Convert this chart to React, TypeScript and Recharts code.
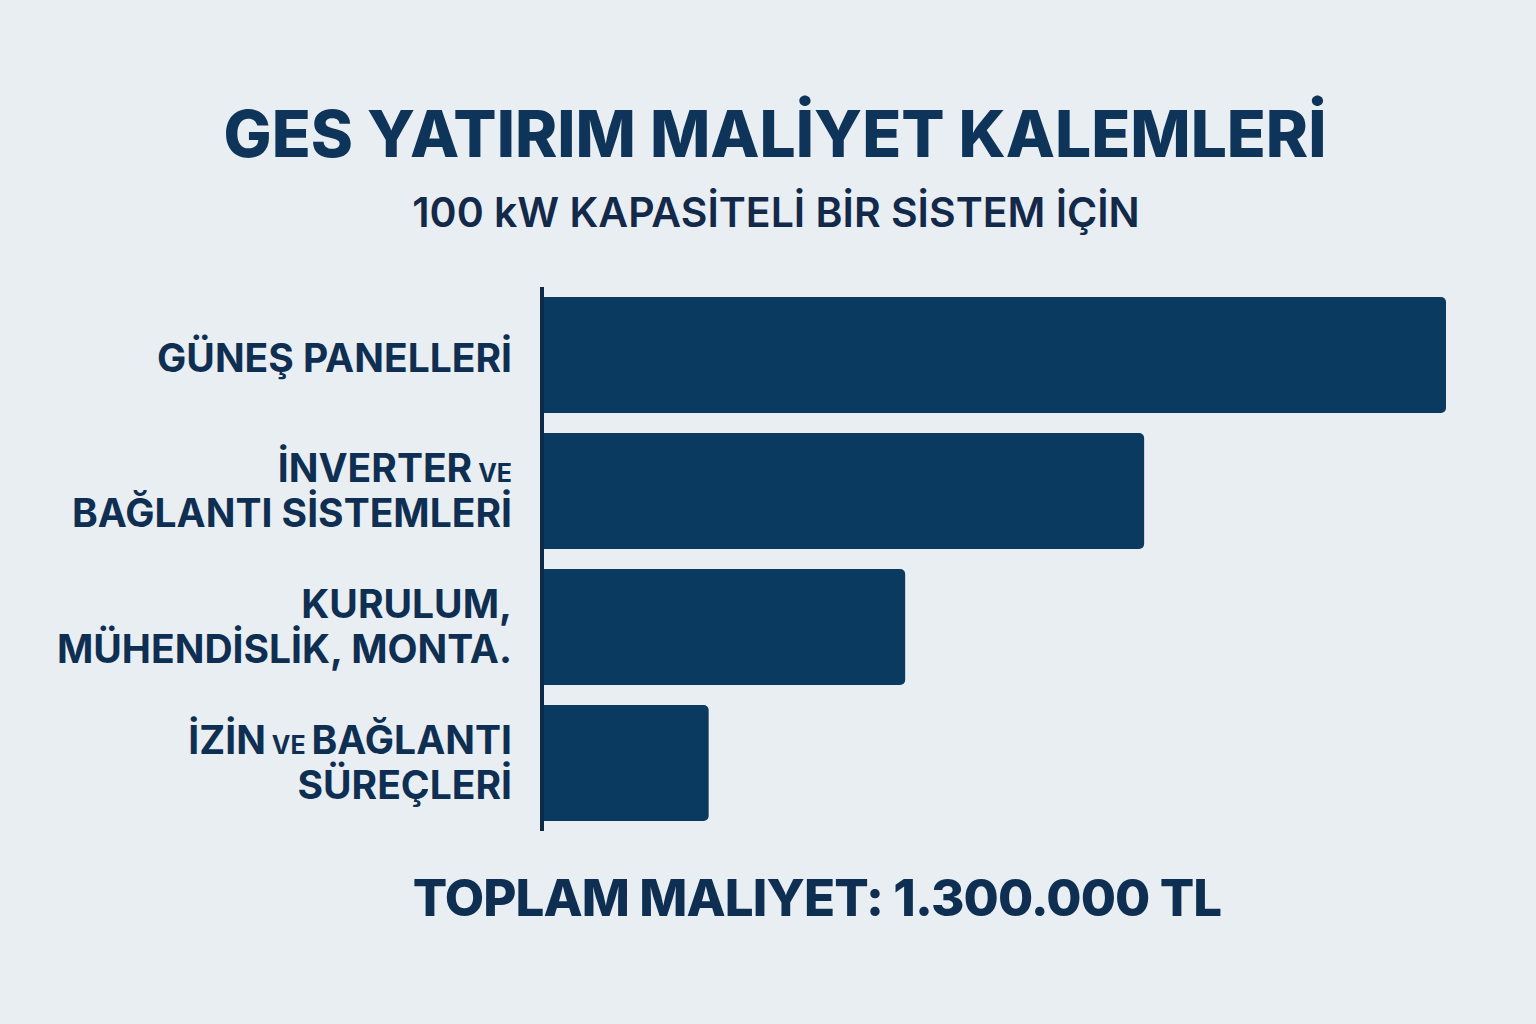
import { Bar, BarChart, XAxis, YAxis } from "recharts"

const categories = ["GÜNEŞ PANELLERİ", "İNVERTER VE BAĞLANTI SİSTEMLERİ", "KURULUM, MÜHENDİSLİK, MONTA.", "İZİN VE BAĞLANTI SÜREÇLERİ"]
const labelLines = [["GÜNEŞ PANELLERİ"], ["İNVERTER VE", "BAĞLANTI SİSTEMLERİ"], ["KURULUM,", "MÜHENDİSLİK, MONTA."], ["İZİN VE BAĞLANTI", "SÜREÇLERİ"]]
const costs = [575000, 383000, 231000, 106000]

const title = "GES YATIRIM MALİYET KALEMLERİ"
const subtitle = "100 kW KAPASİTELİ BİR SİSTEM İÇİN"
const totalText = "TOPLAM MALIYET: 1.300.000 TL"

const ink = "#0f2f52"
const barColor = "#0a3a60"
const font = "Inter, 'Noto Sans', sans-serif"

const data = categories.map((name, i) => ({ name, cost: costs[i] }))

function CategoryTick({ x, y, payload }: any) {
  const idx = categories.indexOf(payload.value)
  const lines = labelLines[idx] || [payload.value]
  const first = lines.length === 1 ? y + 17 : y - 9
  return (
    <text x={x} y={first} textAnchor="end" fill={ink} fontFamily={font} fontWeight={700} fontSize={39}>
      {lines.map((line, li) => {
        const words = line.split(" ")
        return (
          <tspan key={li} x={x} dy={li === 0 ? 0 : 45}>
            {words.map((w, wi) => (
              <tspan key={wi} fontSize={w === "VE" ? 25 : 39}>{(wi > 0 && words[wi - 1] !== "VE" ? " " : "") + w + (w === "VE" && wi < words.length - 1 ? " " : "")}</tspan>
            ))}
          </tspan>
        )
      })}
    </text>
  )
}

export default function App() {
  return (
    <div style={{ position: "absolute", left: 0, top: 0, width: 1536, height: 1024, background: "#e9eef3", overflow: "hidden" }}>
      <svg width={1536} height={1024} style={{ position: "absolute", left: 0, top: 0 }}>
        <text x={775} y={157} textAnchor="middle" fill="#0e3459" fontFamily={font} fontWeight={800} fontSize={64}>{title}</text>
        <text x={776} y={227} textAnchor="middle" fill="#13294a" fontFamily={font} fontWeight={600} fontSize={41}>{subtitle}</text>
        <text x={817} y={916} textAnchor="middle" fill={ink} fontFamily={font} fontWeight={800} fontSize={51} letterSpacing={-0.9}>{totalText}</text>
      </svg>
      <div style={{ position: "absolute", left: 0, top: 0 }}>
        <BarChart width={1536} height={1024} data={data} layout="vertical" margin={{ top: 287, right: 90, bottom: 193, left: 0 }}>
          <XAxis type="number" hide domain={[0, 575000]} />
          <YAxis type="category" dataKey="name" width={542} tickLine={false} tickSize={0} tickMargin={30} axisLine={{ stroke: "#0d2a48", strokeWidth: 4 }} tick={<CategoryTick />} interval={0} />
          <Bar dataKey="cost" fill={barColor} barSize={116} radius={[0, 5, 5, 0]} isAnimationActive={false} />
        </BarChart>
      </div>
    </div>
  )
}
